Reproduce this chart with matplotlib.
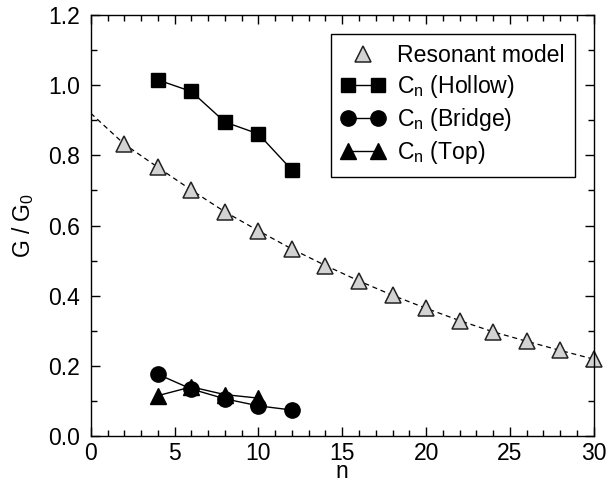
import matplotlib
matplotlib.use("Agg")
import matplotlib.pyplot as plt
from matplotlib.legend_handler import HandlerLine2D
from matplotlib.ticker import MultipleLocator

plt.rcParams['font.family'] = ['Liberation Sans', 'DejaVu Sans']
plt.rcParams['mathtext.default'] = 'regular'

# Resonant model (triangles + dashed curve)
n_res = [2, 4, 6, 8, 10, 12, 14, 16, 18, 20, 22, 24, 26, 28, 30]
g_res = [0.832, 0.766, 0.701, 0.639, 0.585, 0.533, 0.486, 0.442, 0.401,
         0.364, 0.329, 0.297, 0.270, 0.244, 0.219]
n_curve = [0] + n_res
g_curve = [0.920] + g_res

# Cn data
n_hollow = [4, 6, 8, 10, 12]
g_hollow = [1.015, 0.982, 0.895, 0.861, 0.758]
n_bridge = [4, 6, 8, 10, 12]
g_bridge = [0.176, 0.134, 0.106, 0.086, 0.074]
n_top = [4, 6, 8, 10]
g_top = [0.115, 0.140, 0.118, 0.108]

fig = plt.figure(figsize=(6.09, 4.82), dpi=100)
ax = fig.add_axes([0.149, 0.0954, 0.826, 0.8735])

ax.plot(n_curve, g_curve, color='black', linestyle=(0, (4, 3)), linewidth=0.9)
tri, = ax.plot(n_res, g_res, linestyle='none', marker='^', markersize=11,
               markerfacecolor='#d3d3d3', markeredgecolor='#222222',
               markeredgewidth=1.1, label='Resonant model', clip_on=False)
h1, = ax.plot(n_hollow, g_hollow, color='black', linewidth=1, marker='s',
              markersize=10.5, label='C$_{n}$ (Hollow)')
h3, = ax.plot(n_top, g_top, color='black', linewidth=1, marker='^',
              markersize=11, label='C$_{n}$ (Top)')
h2, = ax.plot(n_bridge, g_bridge, color='black', linewidth=1, marker='o',
              markersize=11, label='C$_{n}$ (Bridge)')

ax.set_xlim(0, 30)
ax.set_ylim(0, 1.2)
ax.xaxis.set_major_locator(MultipleLocator(5))
ax.xaxis.set_minor_locator(MultipleLocator(1))
ax.yaxis.set_major_locator(MultipleLocator(0.2))
ax.yaxis.set_minor_locator(MultipleLocator(0.1))
ax.yaxis.set_major_formatter(plt.FormatStrFormatter('%.1f'))
ax.tick_params(which='both', direction='in', top=True, right=True,
               labelsize=16.5, width=1)
ax.tick_params(which='major', length=6.5)
ax.tick_params(which='minor', length=4)
ax.tick_params(axis='x', pad=4.5)
ax.tick_params(axis='y', pad=7.5)
for s in ax.spines.values():
    s.set_linewidth(1)

ax.set_xlabel('n', fontsize=16.5, labelpad=-4)
ax.set_ylabel('G / G$_{0}$', fontsize=16.5, labelpad=9)

leg = ax.legend([tri, h1, h2, h3],
                ['Resonant model', 'C$_{n}$ (Hollow)', 'C$_{n}$ (Bridge)', 'C$_{n}$ (Top)'],
                handler_map={tri: HandlerLine2D(numpoints=1)},
                numpoints=2, loc='upper right', bbox_to_anchor=(0.962, 0.955),
                borderaxespad=0, fontsize=16.6, fancybox=False, framealpha=1,
                edgecolor='black', handlelength=1.9, handletextpad=0.5,
                labelspacing=0.26, borderpad=0.45)
leg.get_frame().set_linewidth(1)

fig.savefig('out.png', dpi=100)
